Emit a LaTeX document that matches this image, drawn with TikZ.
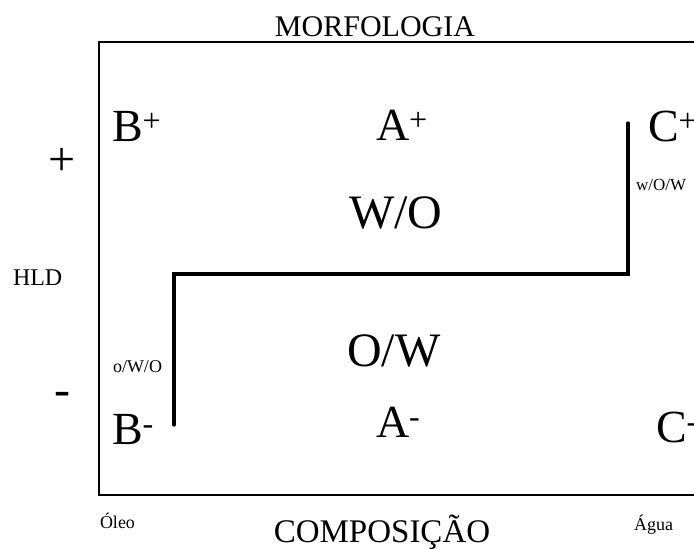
\documentclass[tikz,border=0pt]{standalone}
\usepackage{fontspec}
\setmainfont{Liberation Serif}
\usetikzlibrary{positioning}
\newcommand{\tam}[1]{\fontsize{#1}{#1}\selectfont}
\tikzset{
  txt/.style={inner sep=0pt, outer sep=0pt, anchor=base west},
  regiao/.style={txt, font=\tam{46}},
  fase/.style={txt, font=\tam{48}},
  eixo/.style={txt, font=\tam{18}},
  titulo/.style={inner sep=0pt, anchor=base},
  moldura/.style={draw, line width=2pt, line join=miter},
  fronteira/.style={draw, line width=3.2pt, line cap=round, line join=miter},
}

\begin{document}
\begin{tikzpicture}[x=1pt,y=-1pt]
\useasboundingbox (0,0) rectangle (694,549);
\coordinate (tl) at (99,42);
\coordinate (bl) at (99,495);
\coordinate (tr) at (700,42);
\coordinate (br) at (700,495);
\draw[moldura] (tr) -- (tl) -- (bl) -- (br);
\coordinate (s1) at (174,425);
\coordinate (s2) at (174,274);
\coordinate (s3) at (628,274);
\coordinate (s4) at (628,123);
\draw[fronteira] (s1) -- (s2) -- (s3) -- (s4);
\node[titulo, font=\tam{30}] (morf) at (375,36) {MORFOLOGIA};
\node[titulo, font=\tam{33}] (comp) at (382,542) {COMPOSIÇÃO};
\node[eixo] (oleo) at (100,528) {Óleo};
\node[eixo] (agua) at (634,530) {Água};
\node[txt, font=\tam{24}] (hld) at (13,285) {HLD};
\node[fase] (mais) at (48,175) {+};
\node[fase] (menos) at (54,405) {-};
\node[regiao] (bmais) at (112,141) {B\textsuperscript{+}};
\node[regiao] (amais) at (376,140) {A\textsuperscript{+}};
\node[regiao] (cmais) at (648,141) {C\textsuperscript{+}};
\node[regiao] (bmenos) at (112,444) {B\textsuperscript{-}};
\node[regiao] (amenos) at (376,437) {A\textsuperscript{-}};
\node[regiao] (cmenos) at (656,442) {C\textsuperscript{-}};
\node[fase] (wo) at (349,228) {W/O};
\node[fase] (ow) at (347,366) {O/W};
\node[eixo] (owo) at (113,372) {o/W/O};
\node[txt, font=\tam{17}] (wow) at (636,190) {w/O/W};
\end{tikzpicture}
\end{document}
